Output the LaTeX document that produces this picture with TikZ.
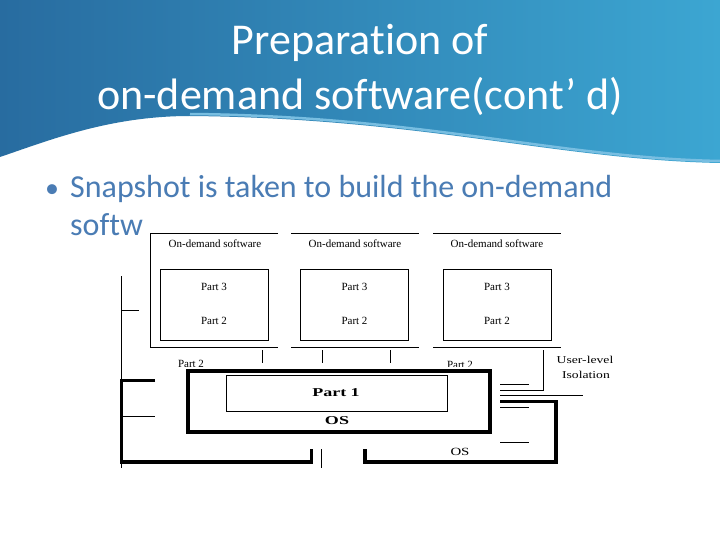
\documentclass[tikz,border=0pt]{standalone}
\usepackage{fontspec}
\setmainfont{Liberation Serif}
\newfontfamily\calibri[Ligatures={NoCommon,NoContextual},RawFeature={-liga;-clig;-dlig;-calt}]{Carlito}
\usepackage{graphicx}
\definecolor{hdrdark}{RGB}{40,108,160}
\definecolor{hdrlight}{RGB}{60,166,210}
\definecolor{hdredge}{RGB}{120,190,225}
\definecolor{bultxt}{RGB}{74,124,180}
\begin{document}
\begin{tikzpicture}[x=1pt,y=-1pt,
  thinln/.style={line width=0.8pt},
  thickln/.style={line width=3.2pt},
  lbl/.style={font=\fontsize{11}{12}\selectfont, inner sep=0pt},
  partbox/.style={draw, line width=0.8pt, minimum width=108pt, minimum height=71pt, inner sep=0pt}]
\useasboundingbox (0,0) rectangle (720,540);
\fill[white] (0,0) rectangle (720,540);
% header
\shade[left color=hdrdark, right color=hdrlight]
  (0,0) -- (720,0) -- (720,163)
  .. controls (560,160) and (420,118) .. (190,116)
  .. controls (110,116) and (50,140) .. (0,157) -- cycle;
\draw[line width=2.5pt, hdredge]
  (720,161) .. controls (560,158) and (420,116) .. (190,114);
\node[anchor=base, text=white, font=\calibri\fontsize{44}{50}\selectfont, inner sep=0pt] (t1) at (360,55) {Preparat\kern0pt ion of};
\node[anchor=base, text=white, font=\calibri\fontsize{44}{50}\selectfont, inner sep=0pt] (t2) at (360,110) {on-demand sof\kern0pt tware(cont’ d)};
% bullet
\node[anchor=base west, text=bultxt, font=\calibri\fontsize{28}{32}\selectfont, inner sep=0pt] (bul) at (45,197) {•};
\node[anchor=base west, text=bultxt, font=\calibri\fontsize{32}{36}\selectfont, inner sep=0pt] (b1) at (70,197) {Snapshot is taken to build the on-demand};
\node[anchor=base west, text=bultxt, font=\calibri\fontsize{32}{36}\selectfont, inner sep=0pt] (b2) at (70,236) {sof\kern0pt tw};
% frames of on-demand software
\fill[white] (148,228) rectangle (600,475);
\draw[thinln] (278,233) -- (150,233) -- (150,347) -- (278,347);
\draw[thinln] (291,233) -- (419,233);
\draw[thinln] (291,347) -- (419,347);
\draw[thinln] (433,233) -- (561,233);
\draw[thinln] (433,347) -- (561,347);
\node[lbl] (od1) at (215,244) {On-demand software};
\node[lbl] (od2) at (355,244) {On-demand software};
\node[lbl] (od3) at (497,244) {On-demand software};
\node[partbox] (in1) at (214,304.5) {};
\node[partbox] (in2) at (354.5,304.5) {};
\node[partbox] (in3) at (497,304.5) {};
\foreach \i/\x in {1/214,2/354.5,3/497}{
  \node[lbl] (p3\i) at (\x,287) {Part 3};
  \node[lbl] (p2\i) at (\x,321) {Part 2};
}
% short verticals
\draw[thinln] (262,350) -- (262,363);
\draw[thinln] (322,350) -- (322,363);
\draw[thinln] (390,350) -- (390,363);
\draw[thinln] (543,350) -- (543,390) -- (500,390);
% partly hidden Part 2 labels
\begin{scope}
\clip (160,350) rectangle (500,366.5);
\node[lbl] (h1) at (191,364) {Part 2};
\node[lbl] (h2) at (460,365) {Part 2};
\end{scope}
% right thin lines
\draw[thinln] (500,384) -- (529,384);
\draw[thinln] (500,395) -- (583,395);
\draw[thinln] (500,407) -- (529,407);
\draw[thinln] (500,442) -- (529,442);
% right bracket
\draw[thickln] (500,401.7) -- (556,401.7) -- (556,462) -- (365,462) -- (365,449);
% left lines
\draw[thinln] (121.7,276) -- (121.7,468);
\draw[thinln] (121.7,310.7) -- (139.3,310.7);
\draw[thinln] (121.7,416) -- (155,416);
\draw[thickln] (155,380.7) -- (121.7,380.7) -- (121.7,462) -- (311.7,462) -- (311.7,449);
\draw[thinln] (321,449) -- (321,468);
% OS / Part 1 box
\draw[thickln] (188,371) rectangle (490,432);
\node[draw, thinln, minimum width=221pt, minimum height=35.5pt, inner sep=0pt] (p1box) at (336.5,393.2) {};
\node[inner sep=0pt, font=\fontsize{12}{14}\selectfont\bfseries] (p1) at (336,393) {\scalebox{1.5}[1]{Part 1}};
\node[inner sep=0pt, font=\fontsize{12}{14}\selectfont\bfseries] (os1) at (337,421) {\scalebox{1.5}[1]{OS}};
\node[inner sep=0pt, font=\fontsize{11}{13}\selectfont] (os2) at (460,452) {\scalebox{1.35}[1]{OS}};
\node[inner sep=0pt, font=\fontsize{10.5}{12}\selectfont] (ul) at (585,360) {\scalebox{1.3}[1]{User-level}};
\node[inner sep=0pt, font=\fontsize{10.5}{12}\selectfont] (iso) at (586,375) {\scalebox{1.3}[1]{Isolation}};
\end{tikzpicture}
\end{document}
